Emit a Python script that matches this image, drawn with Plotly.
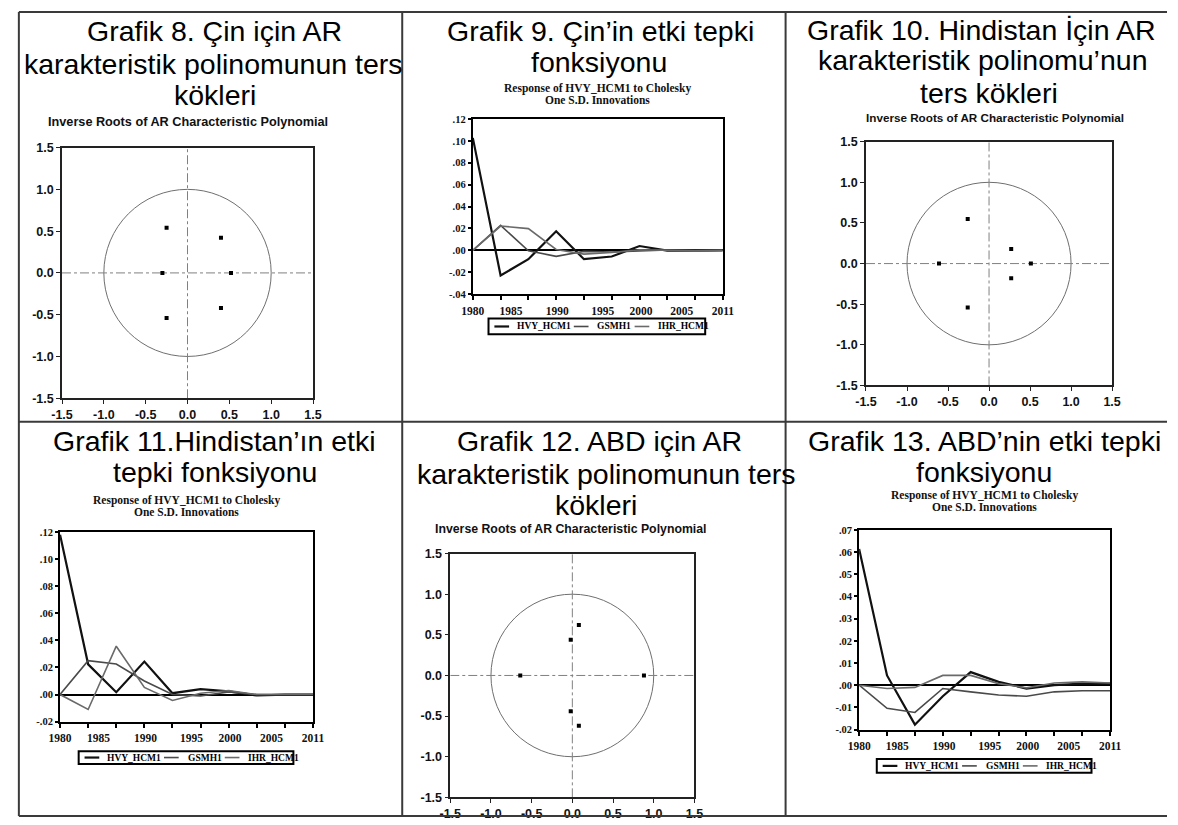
import plotly.graph_objects as go

W, H = 1178, 825


def px(x):
    return x / W


def py(y):
    return 1 - y / H


# ---------------- data ----------------
# Inverse roots of AR characteristic polynomial (real, imaginary)
china_roots_re = [-0.25, 0.40, -0.30, 0.52, 0.40, -0.25]
china_roots_im = [0.54, 0.42, 0.00, 0.00, -0.42, -0.54]
india_roots_re = [-0.26, 0.27, -0.61, 0.51, 0.27, -0.26]
india_roots_im = [0.55, 0.18, 0.00, 0.00, -0.18, -0.54]
usa_roots_re = [0.08, -0.02, -0.64, 0.88, -0.02, 0.08]
usa_roots_im = [0.62, 0.44, 0.00, 0.00, -0.44, -0.62]

ar_ticks = [-1.5, -1.0, -0.5, 0.0, 0.5, 1.0, 1.5]
ar_tick_labels = ["-1.5", "-1.0", "-0.5", "0.0", "0.5", "1.0", "1.5"]

# Impulse responses (10 periods)
periods = [1, 2, 3, 4, 5, 6, 7, 8, 9, 10]
year_labels = ["1980", "1985", "1990", "1995", "2000", "2005", "2011"]
year_label_pos = [1, 2.37, 4.04, 5.68, 7.05, 8.52, 10]
series_names = ["HVY_HCM1", "GSMH1", "IHR_HCM1"]

china_hvy = [0.1028, -0.0230, -0.0081, 0.0174, -0.0081, -0.0057, 0.0039, -0.0003, -0.0003, 0.0000]
china_gsmh = [0.0, 0.0228, -0.0005, -0.0055, -0.0010, -0.0015, -0.0005, 0.0003, 0.0000, 0.0000]
china_ihr = [0.0, 0.0222, 0.0198, 0.0008, -0.0035, -0.0020, 0.0005, 0.0000, -0.0005, 0.0000]

india_hvy = [0.1180, 0.0223, 0.0017, 0.0243, 0.0010, 0.0040, 0.0024, -0.0007, 0.0000, 0.0000]
india_gsmh = [0.0, 0.0250, 0.0225, 0.0100, 0.0000, -0.0010, 0.0020, 0.0000, 0.0000, 0.0000]
india_ihr = [0.0, -0.0110, 0.0357, 0.0053, -0.0044, 0.0010, 0.0030, 0.0000, 0.0000, 0.0000]

usa_hvy = [0.0614, 0.0044, -0.0178, -0.0050, 0.0059, 0.0015, -0.0015, 0.0000, 0.0007, 0.0007]
usa_gsmh = [0.0, -0.0104, -0.0123, -0.0015, -0.0030, -0.0044, -0.0050, -0.0030, -0.0025, -0.0025]
usa_ihr = [0.0, -0.0015, -0.0010, 0.0044, 0.0044, 0.0007, -0.0012, 0.0010, 0.0015, 0.0010]

irf_ticks_a = [-0.04, -0.02, 0.00, 0.02, 0.04, 0.06, 0.08, 0.10, 0.12]
irf_labels_a = ["-.04", "-.02", ".00", ".02", ".04", ".06", ".08", ".10", ".12"]
irf_ticks_b = [-0.02, 0.00, 0.02, 0.04, 0.06, 0.08, 0.10, 0.12]
irf_labels_b = ["-.02", ".00", ".02", ".04", ".06", ".08", ".10", ".12"]
irf_ticks_c = [-0.02, -0.01, 0.00, 0.01, 0.02, 0.03, 0.04, 0.05, 0.06, 0.07]
irf_labels_c = ["-.02", "-.01", ".00", ".01", ".02", ".03", ".04", ".05", ".06", ".07"]

# ---------------- styles ----------------
SANS = "Liberation Sans, Arial, sans-serif"
SERIF = "Liberation Serif, Times New Roman, serif"
line_colors = ["#111111", "#4a4a4a", "#6a6a6a"]
line_widths = [2.2, 1.6, 1.6]

fig = go.Figure()
layout = dict(
    autosize=True, margin=dict(l=0, r=0, t=0, b=0, pad=0),
    paper_bgcolor="white", plot_bgcolor="white", showlegend=False,
)
shapes = []
annotations = []

# ---------------- AR root panels ----------------
ar_panels = [
    dict(n=1, re=china_roots_re, im=china_roots_im, x0=51, x1=307, y0=143, y1=398),
    dict(n=3, re=india_roots_re, im=india_roots_im, x0=871, x1=1122, y0=137, y1=385),
    dict(n=5, re=usa_roots_re, im=usa_roots_im, x0=447, x1=696, y0=556, y1=804),
]
for p in ar_panels:
    n = p["n"]
    xs = "x" if n == 1 else f"x{n}"
    ys = "y" if n == 1 else f"y{n}"
    axis_common = dict(
        range=[-1.5, 1.5], showgrid=False, zeroline=False, showline=True,
        linecolor="#222222", linewidth=1.5, mirror=True, ticks="outside",
        ticklen=4, tickwidth=1.2, tickcolor="#222222",
        tickvals=ar_ticks, ticktext=ar_tick_labels,
        tickfont=dict(family=SANS, size=12.5, color="#111111", weight="bold"),
        fixedrange=True,
    )
    layout["xaxis" if n == 1 else f"xaxis{n}"] = dict(
        axis_common, domain=[px(p["x0"]), px(p["x1"])], anchor=ys)
    layout["yaxis" if n == 1 else f"yaxis{n}"] = dict(
        axis_common, domain=[py(p["y1"]), py(p["y0"])], anchor=xs)
    # unit circle and dash-dot cross hairs
    shapes.append(dict(type="circle", xref=xs, yref=ys, x0=-1, y0=-1, x1=1, y1=1,
                       line=dict(color="#6f6f6f", width=1), layer="below"))
    shapes.append(dict(type="line", xref=xs, yref=ys, x0=0, x1=0, y0=-1.5, y1=1.5,
                       line=dict(color="#808080", width=1, dash="dashdot"), layer="below"))
    shapes.append(dict(type="line", xref=xs, yref=ys, x0=-1.5, x1=1.5, y0=0, y1=0,
                       line=dict(color="#808080", width=1, dash="dashdot"), layer="below"))
    fig.add_trace(go.Scatter(x=p["re"], y=p["im"], mode="markers", xaxis=xs, yaxis=ys,
                             marker=dict(size=4, color="black", symbol="square"),
                             hoverinfo="x+y"))

# ---------------- IRF panels ----------------
irf_panels = [
    dict(n=2, s=(china_hvy, china_gsmh, china_ihr), x0=470, x1=725, y0=114, y1=292,
         yr=(-0.04, 0.12), tv=irf_ticks_a, tt=irf_labels_a, leg=(486, 317, 707, 333)),
    dict(n=4, s=(india_hvy, india_gsmh, india_ihr), x0=49, x1=307, y0=534, y1=727,
         yr=(-0.02, 0.12), tv=irf_ticks_b, tt=irf_labels_b, leg=(68, 757, 287, 770)),
    dict(n=6, s=(usa_hvy, usa_gsmh, usa_ihr), x0=864, x1=1120, y0=532, y1=735,
         yr=(-0.02, 0.07), tv=irf_ticks_c, tt=irf_labels_c, leg=(882, 765, 1101, 779)),
]
for p in irf_panels:
    n = p["n"]
    xs, ys = f"x{n}", f"y{n}"
    layout[f"xaxis{n}"] = dict(
        domain=[px(p["x0"]), px(p["x1"])], anchor=ys, range=[1, 10],
        showgrid=False, zeroline=False, showline=True, linecolor="black",
        linewidth=2, mirror=True, ticks="outside", ticklen=5,
        tickcolor="rgba(0,0,0,0)", tickvals=year_label_pos, ticktext=year_labels,
        tickfont=dict(family=SERIF, size=11.5, color="#111111", weight="bold"),
        minor=dict(tickmode="linear", tick0=1, dtick=1, ticks="outside", ticklen=4,
                   tickwidth=1.5, tickcolor="black", showgrid=False),
        fixedrange=True,
    )
    layout[f"yaxis{n}"] = dict(
        domain=[py(p["y1"]), py(p["y0"])], anchor=xs, range=list(p["yr"]),
        showgrid=False, zeroline=True, zerolinecolor="black", zerolinewidth=1.6,
        showline=True, linecolor="black", linewidth=2, mirror=True,
        ticks="outside", ticklen=3, tickwidth=1.5, tickcolor="black",
        tickvals=p["tv"], ticktext=p["tt"],
        tickfont=dict(family=SERIF, size=10.5, color="#111111", weight="bold"),
        fixedrange=True,
    )
    for vals, name, col, lw in zip(p["s"], series_names, line_colors, line_widths):
        fig.add_trace(go.Scatter(x=periods, y=vals, mode="lines", name=name,
                                 xaxis=xs, yaxis=ys, line=dict(color=col, width=lw)))
    # legend box
    lx0, ly0, lx1, ly1 = p["leg"]
    shapes.append(dict(type="rect", xref="paper", yref="paper",
                       x0=px(lx0), x1=px(lx1), y0=py(ly1), y1=py(ly0),
                       line=dict(color="black", width=2), fillcolor="white", layer="above"))
    ym = (ly0 + ly1) / 2
    offsets = [(6, 27), (87, 109), (149, 171)]
    for (lo, to), name, col, lw in zip(offsets, series_names, line_colors, line_widths):
        shapes.append(dict(type="line", xref="paper", yref="paper",
                           x0=px(lx0 + lo), x1=px(lx0 + lo + 15), y0=py(ym), y1=py(ym),
                           line=dict(color=col, width=lw)))
        annotations.append(dict(text=name, x=px(lx0 + to), y=py(ym), xref="paper",
                                yref="paper", xanchor="left", yanchor="middle",
                                showarrow=False,
                                font=dict(family=SERIF, size=9.5, color="black", weight="bold")))

# ---------------- titles ----------------
TITLE_FONT = dict(family=SANS, size=28.5, color="black")
titles = [
    ("Grafik 8. Çin için AR", 207, 24),
    ("karakteristik polinomunun ters", 206, 58),
    ("kökleri", 207, 90),
    ("Grafik 9. Çin’in etki tepki", 600, 24),
    ("fonksiyonu", 599, 56),
    ("Grafik 10. Hindistan İçin AR", 989, 23),
    ("karakteristik polinomu’nun", 990, 54),
    ("ters kökleri", 996, 87),
    ("Grafik 11.Hindistan’ın etki", 207, 442),
    ("tepki fonksiyonu", 207, 473),
    ("Grafik 12. ABD için AR", 599, 442),
    ("karakteristik polinomunun ters", 606, 475),
    ("kökleri", 596, 507),
    ("Grafik 13. ABD’nin etki tepki", 992, 441),
    ("fonksiyonu", 991, 473),
]
for text, x, y in titles:
    annotations.append(dict(text=text, x=px(x), y=py(y), xref="paper", yref="paper",
                            xanchor="center", yanchor="middle", showarrow=False,
                            font=TITLE_FONT))

subtitles = [
    ("Inverse Roots of AR Characteristic Polynomial", 179, 117, SANS, 12.7),
    ("Inverse Roots of AR Characteristic Polynomial", 1003, 112, SANS, 11.7),
    ("Inverse Roots of AR Characteristic Polynomial", 570, 531, SANS, 12.3),
    ("Response of HVY_HCM1 to Cholesky", 597, 83, SERIF, 11.5),
    ("One S.D. Innovations", 597, 95, SERIF, 11.5),
    ("Response of HVY_HCM1 to Cholesky", 178, 502, SERIF, 11.5),
    ("One S.D. Innovations", 178, 514, SERIF, 11.5),
    ("Response of HVY_HCM1 to Cholesky", 992, 497, SERIF, 11.5),
    ("One S.D. Innovations", 992, 509, SERIF, 11.5),
]
for text, x, y, fam, size in subtitles:
    annotations.append(dict(text=text, x=px(x), y=py(y), xref="paper", yref="paper",
                            xanchor="center", yanchor="middle", showarrow=False,
                            font=dict(family=fam, size=size, color="#111111", weight="bold")))

# ---------------- table grid ----------------
grid = dict(color="#3a3a3a", width=2)
for (x0, y0, x1, y1) in [(7, 5, 1178, 5), (7, 422, 1178, 422), (7, 823, 1178, 823),
                         (7, 5, 7, 823), (398, 5, 398, 823), (789, 5, 789, 823)]:
    shapes.append(dict(type="line", xref="paper", yref="paper",
                       x0=px(x0), x1=px(x1), y0=py(y0), y1=py(y1), line=grid, layer="above"))

layout["shapes"] = shapes
layout["annotations"] = annotations
fig.update_layout(**layout)

# The graph div is pinned to the page's top-left corner so the browser's default
# body margin does not shift or rescale the 1178x825 figure.
fig.write_html(
    "out.html",
    config={"displayModeBar": False},
    default_width=f"{W}px; position:absolute; left:0px; top:0px",
    default_height=f"{H}px",
    post_script="document.body.style.margin='0';document.body.style.overflow='hidden';",
)
